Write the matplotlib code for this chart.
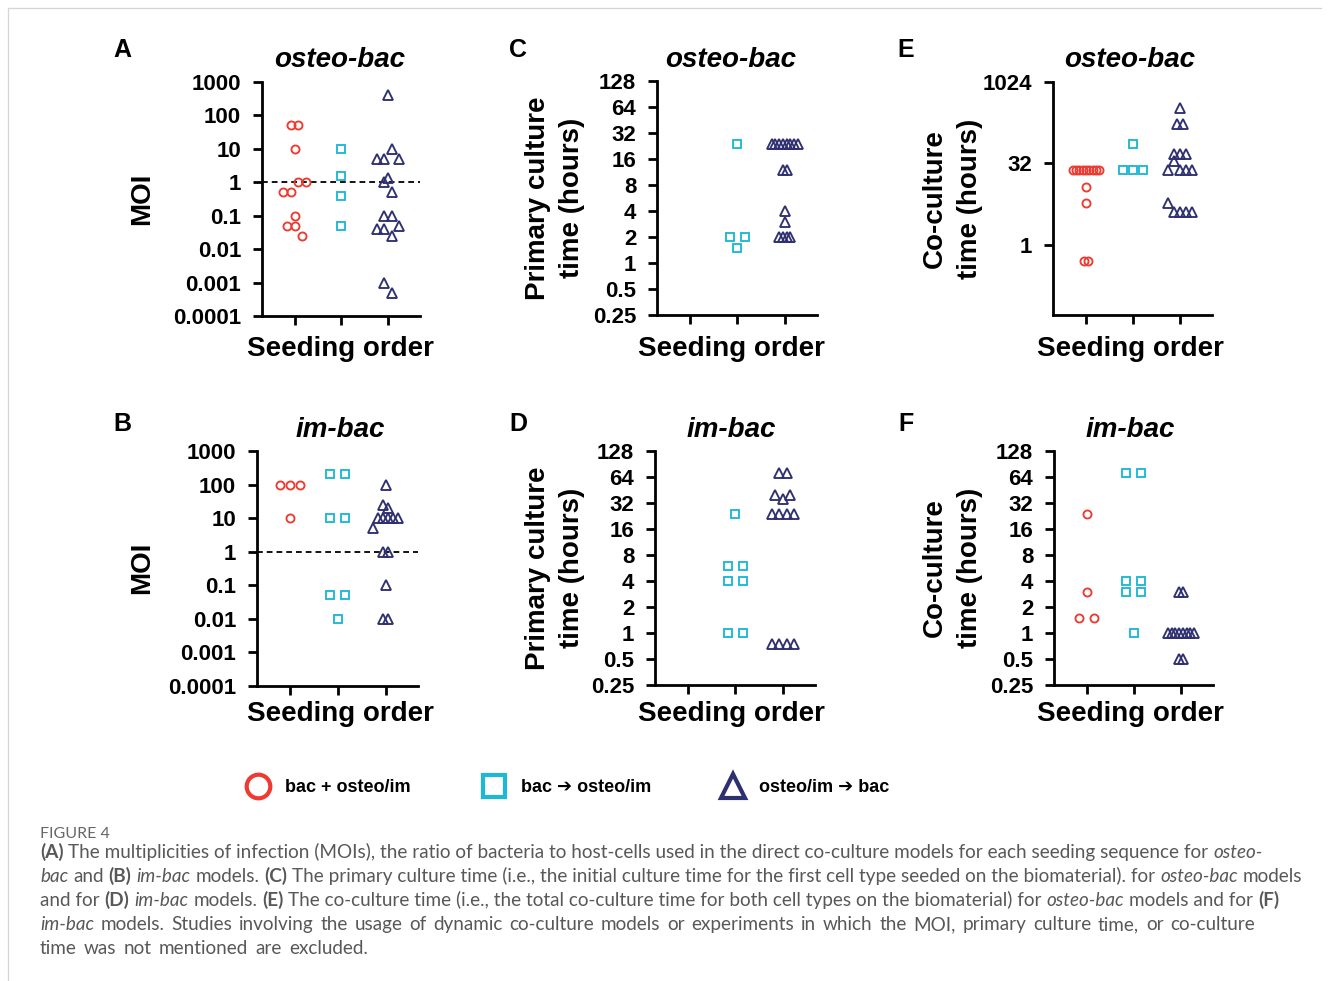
import numpy as np
import matplotlib
matplotlib.use("Agg")
import matplotlib.pyplot as plt
from matplotlib.ticker import FixedLocator, FixedFormatter, NullLocator

plt.rcParams['font.family'] = ['Liberation Sans', 'DejaVu Sans']
plt.rcParams['font.weight'] = 'bold'

W_PX, H_PX = 1329, 981
fig = plt.figure(figsize=(W_PX / 100, H_PX / 100), dpi=100)

RED = '#EE3A30'
CYAN = '#1DB8D4'
NAVY = '#2E3070'

# ---------------- data ----------------
legend_labels = ['bac + osteo/im', 'bac \u2794 osteo/im', 'osteo/im \u2794 bac']

# A: MOI, osteo-bac
A_circle = [50, 50, 10, 0.5, 0.5, 1, 1, 0.1, 0.05, 0.05, 0.025]
A_square = [10, 1.5, 0.4, 0.05]
A_triangle = [400, 5, 5, 10, 5, 1.3, 1, 0.5, 0.1, 0.1, 0.04, 0.04, 0.025, 0.05, 0.001, 0.0005]
# B: MOI, im-bac
B_circle = [100, 100, 100, 10]
B_square = [200, 200, 10, 10, 0.05, 0.05, 0.01]
B_triangle = [100, 25, 20, 5, 10, 10, 10, 10, 10, 1, 1, 0.1, 0.01, 0.01]
# C: primary culture time, osteo-bac
C_circle = []
C_square = [24, 2, 1.5, 2]
C_triangle = [24, 24, 24, 24, 24, 24, 24, 24, 12, 12, 4, 3, 2, 2, 2, 2]
# D: primary culture time, im-bac
D_circle = []
D_square = [24, 6, 6, 4, 4, 1, 1]
D_triangle = [72, 72, 40, 36, 40, 24, 24, 24, 24, 0.75, 0.75, 0.75, 0.75]
# E: co-culture time, osteo-bac
E_circle = [24, 24, 24, 24, 24, 24, 24, 24, 24, 12, 6, 0.5, 0.5]
E_square = [72, 24, 24, 24]
E_triangle = [336, 168, 168, 48, 48, 48, 24, 36, 24, 24, 24, 6, 4, 4, 4, 4]
# F: co-culture time, im-bac
F_circle = [24, 3, 1.5, 1.5]
F_square = [72, 72, 4, 4, 3, 3, 1]
F_triangle = [3, 3, 1, 1, 1, 1, 1, 1, 1, 1, 0.5, 0.5]

moi_ticks = [0.0001, 0.001, 0.01, 0.1, 1, 10, 100, 1000]
moi_labels = ['0.0001', '0.001', '0.01', '0.1', '1', '10', '100', '1000']
h_ticks = [0.25, 0.5, 1, 2, 4, 8, 16, 32, 64, 128]
h_labels = ['0.25', '0.5', '1', '2', '4', '8', '16', '32', '64', '128']
e_ticks = [1, 32, 1024]
e_labels = ['1', '32', '1024']

# ---------------- helpers ----------------
def make_axes(box, base, ylim, ticks, labels):
    l, r, t, b = box
    ax = fig.add_axes([l / W_PX, 1 - b / H_PX, (r - l) / W_PX, (b - t) / H_PX])
    ax.set_yscale('log', base=base)
    ax.set_ylim(*ylim)
    ax.set_xlim(-0.7, 2.68)
    ax.yaxis.set_major_locator(FixedLocator(ticks))
    ax.yaxis.set_major_formatter(FixedFormatter(labels))
    ax.yaxis.set_minor_locator(NullLocator())
    ax.xaxis.set_major_locator(FixedLocator([0, 1, 2]))
    ax.xaxis.set_major_formatter(FixedFormatter(['', '', '']))
    ax.xaxis.set_minor_locator(NullLocator())
    for s in ['top', 'right']:
        ax.spines[s].set_visible(False)
    for s in ['left', 'bottom']:
        ax.spines[s].set_linewidth(2.0)
    ax.tick_params(axis='both', direction='out', length=6.5, width=2.0,
                   labelsize=16, pad=8.5)
    ax.patch.set_alpha(0)
    return ax


def swarm(ax, vals, width_px=30.0, thr_px=10.4):
    vals = np.asarray(vals, dtype=float)
    if len(vals) == 0:
        return np.zeros(0)
    ypx = ax.transData.transform(np.column_stack([np.zeros(len(vals)), vals]))[:, 1]
    order = np.argsort(ypx, kind='stable')
    rows, cur, start = [], [], None
    for i in order:
        if cur and ypx[i] - start <= thr_px:
            cur.append(i)
        else:
            if cur:
                rows.append(cur)
            cur, start = [i], ypx[i]
    rows.append(cur)
    nmax = max(len(r) for r in rows)
    s = width_px / nmax
    off = np.zeros(len(vals))
    for r in rows:
        r = sorted(r)
        n = len(r)
        for k, i in enumerate(r):
            off[i] = (k - (n - 1) / 2) * s
    x0 = ax.transData.transform((0, 1))[0]
    x1 = ax.transData.transform((1, 1))[0]
    return off / (x1 - x0)


styles = [dict(marker='o', color=RED, ms=5.8),
          dict(marker='s', color=CYAN, ms=5.5),
          dict(marker='^', color=NAVY, ms=6.6)]


def draw_points(ax, series):
    for k, vals in enumerate(series):
        if len(vals) == 0:
            continue
        dx = swarm(ax, vals)
        st = styles[k]
        ax.plot(k + dx, vals, linestyle='none', marker=st['marker'],
                markersize=st['ms'], markerfacecolor='none',
                markeredgecolor=st['color'], markeredgewidth=1.35,
                clip_on=False, zorder=3)


# ---------------- panels ----------------
axA = make_axes((262, 420, 82, 316), 10, (1e-4, 1e3), moi_ticks, moi_labels)
axB = make_axes((257, 418, 451, 686), 10, (1e-4, 1e3), moi_ticks, moi_labels)
axC = make_axes((657, 817, 81, 315), 2, (0.25, 128), h_ticks, h_labels)
axD = make_axes((655, 815, 451, 685), 2, (0.25, 128), h_ticks, h_labels)
axE = make_axes((1053, 1212, 82, 315), 2, (2 ** -4.3, 1024), e_ticks, e_labels)
axF = make_axes((1054, 1213, 451, 685), 2, (0.25, 128), h_ticks, h_labels)

for ax in (axA, axB):
    ax.axhline(1, color='black', linestyle=(0, (3.2, 2.2)), linewidth=1.3, zorder=1)

draw_points(axA, [A_circle, A_square, A_triangle])
draw_points(axB, [B_circle, B_square, B_triangle])
draw_points(axC, [C_circle, C_square, C_triangle])
draw_points(axD, [D_circle, D_square, D_triangle])
draw_points(axE, [E_circle, E_square, E_triangle])
draw_points(axF, [F_circle, F_square, F_triangle])

# ---------------- overlay for text ----------------
ov = fig.add_axes([0, 0, 1, 1])
ov.set_xlim(0, W_PX)
ov.set_ylim(H_PX, 0)
ov.axis('off')
ov.set_zorder(-1)

# frame lines
ov.plot([8, 1321], [8, 8], color='#d5d5d5', lw=0.9)
ov.plot([8, 8], [8, 981], color='#d5d5d5', lw=0.9)

letters = [('A', 122, 50), ('C', 518, 50), ('E', 906, 50),
           ('B', 122, 424), ('D', 518, 424), ('F', 906, 424)]
for s, x, y in letters:
    ov.text(x, y, s, ha='center', va='center', fontsize=18, fontweight='bold')

titles = [('osteo-bac', 340, 60), ('osteo-bac', 731, 60), ('osteo-bac', 1130, 60),
          ('im-bac', 340, 430), ('im-bac', 731, 430), ('im-bac', 1130, 430)]
for s, x, y in titles:
    ov.text(x, y, s, ha='center', va='center', fontsize=20, fontweight='bold',
            fontstyle='italic')

for x, y in [(340, 349), (731, 349), (1130, 349), (340, 714), (731, 714), (1130, 714)]:
    ov.text(x, y, 'Seeding order', ha='center', va='center', fontsize=20,
            fontweight='bold')

ylabels = [('MOI', 142, 199), ('MOI', 142, 568),
           ('Primary culture', 538, 198), ('time (hours)', 572, 198),
           ('Primary culture', 538, 568), ('time (hours)', 572, 568),
           ('Co-culture', 935, 199), ('time (hours)', 970, 199),
           ('Co-culture', 935, 568), ('time (hours)', 970, 568)]
for s, x, y in ylabels:
    ov.text(x, y, s, ha='center', va='center', fontsize=20, fontweight='bold',
            rotation=90)

# legend
leg_marks = [('o', RED, 258, 17, 3.0), ('s', CYAN, 494, 16, 3.0), ('^', NAVY, 733, 17, 3.0)]
leg_text_x = [285, 521, 759]
for (m, c, x, ms, mew), tx, lab in zip(leg_marks, leg_text_x, legend_labels):
    ov.plot([x], [786], marker=m, markersize=ms, markerfacecolor='none',
            markeredgecolor=c, markeredgewidth=mew, linestyle='none')
    ov.text(tx, 787, lab, ha='left', va='center', fontsize=13, fontweight='bold')

# caption
CAP_FONT = ['Lato', 'DejaVu Sans']
CAP_COLOR = '#585858'
renderer = fig.canvas.get_renderer()
STY = {'n': dict(fontweight='normal', fontstyle='normal'),
       'b': dict(fontweight='bold', fontstyle='normal'),
       'i': dict(fontweight='normal', fontstyle='italic')}


def text_width(s, size, st):
    t = ov.text(0, 0, s, fontsize=size, family=CAP_FONT, **STY[st])
    w = t.get_window_extent(renderer=renderer).width
    t.remove()
    return w


def put(x, y, s, size, st, draw):
    if draw:
        ov.text(x, y, s, ha='left', va='baseline', fontsize=size,
                family=CAP_FONT, color=CAP_COLOR, **STY[st])
    return text_width(s, size, st)


def draw_runs(x0, y, runs, size, target=None, draw=True):
    sw = text_width('a a', size, 'n') - text_width('aa', size, 'n')
    x = x0
    if target is None:
        # draw each styled run as one string; spaces at run edges added manually
        for txt, st in runs:
            core = txt.strip(' ')
            if not core:
                x += len(txt) * sw
                continue
            lead = len(txt) - len(txt.lstrip(' '))
            trail = len(txt) - len(txt.rstrip(' '))
            x += lead * sw
            x += put(x, y, core, size, st, draw)
            x += trail * sw
        return x
    # justified line: word by word
    toks = []
    for txt, st in runs:
        for j, p in enumerate(txt.split(' ')):
            if j > 0:
                toks.append((None, None))
            if p:
                toks.append((p, st))
    widths = [text_width(w, size, st) if w else 0 for w, st in toks]
    nsp = sum(1 for w, _ in toks if w is None)
    extra = (target - x0 - sum(widths) - nsp * sw) / max(nsp, 1)
    for (w, st), wd in zip(toks, widths):
        if w is None:
            x += sw + extra
        else:
            put(x, y, w, size, st, draw)
            x += wd
    return x


cap_lines = [
    [('(A)', 'b'), (' The multiplicities of infection (MOIs), the ratio of bacteria to host-cells used in the direct co-culture models for each seeding sequence for ', 'n'), ('osteo-', 'i')],
    [('bac', 'i'), (' and ', 'n'), ('(B)', 'b'), (' ', 'n'), ('im-bac', 'i'), (' models. ', 'n'), ('(C)', 'b'), (' The primary culture time (i.e., the initial culture time for the first cell type seeded on the biomaterial). for ', 'n'), ('osteo-bac', 'i'), (' models', 'n')],
    [('and for ', 'n'), ('(D)', 'b'), (' ', 'n'), ('im-bac', 'i'), (' models. ', 'n'), ('(E)', 'b'), (' The co-culture time (i.e., the total co-culture time for both cell types on the biomaterial) for ', 'n'), ('osteo-bac', 'i'), (' models and for ', 'n'), ('(F)', 'b')],
    [('im-bac', 'i'), (' models. Studies involving the usage of dynamic co-culture models or experiments in which the MOI, primary culture time, or co-culture', 'n')],
    [('time was not mentioned are excluded.', 'n')],
]
cap_targets = [None, None, None, 1255, 368]

w12 = draw_runs(40, 0, cap_lines[0], 12, draw=False) - 40
cap_size = 12 * 1215 / w12

ov.text(40, 838, 'FIGURE 4', ha='left', va='baseline', fontsize=cap_size * 0.85,
        family=CAP_FONT, color='#666666', fontweight='normal')
for i, (runs, tgt) in enumerate(zip(cap_lines, cap_targets)):
    draw_runs(40, 858 + 24 * i, runs, cap_size, target=tgt)

fig.savefig('out.png', dpi=100)
